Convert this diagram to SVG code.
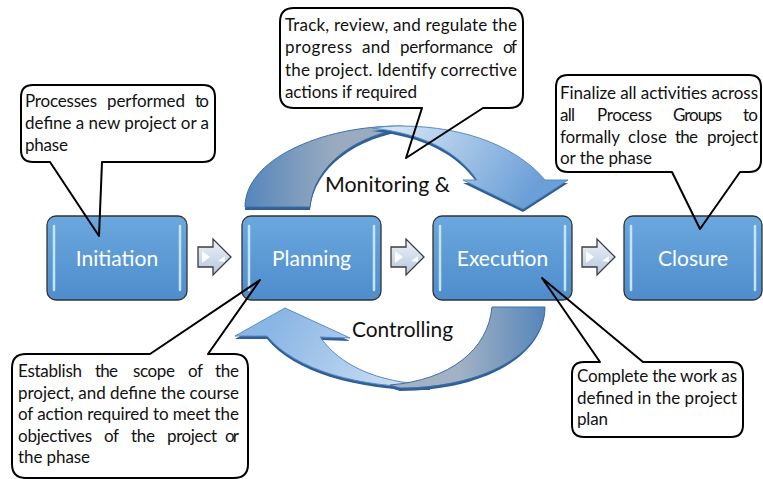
<svg xmlns="http://www.w3.org/2000/svg" width="763" height="479" viewBox="0 0 763 479">
  <defs>
    <linearGradient id="boxGrad" x1="0" y1="0" x2="0" y2="1">
      <stop offset="0" stop-color="#6ba8df"/>
      <stop offset="1" stop-color="#4e8ccc"/>
    </linearGradient>
    <linearGradient id="smallGrad" x1="0" y1="0" x2="0" y2="1">
      <stop offset="0" stop-color="#eef3f9"/>
      <stop offset="1" stop-color="#b5c6dc"/>
    </linearGradient>
    <linearGradient id="topLight" gradientUnits="userSpaceOnUse" x1="400" y1="126" x2="520" y2="209">
      <stop offset="0" stop-color="#d0e2f4"/>
      <stop offset="1" stop-color="#6b9fd7"/>
    </linearGradient>
    <linearGradient id="topDark" gradientUnits="userSpaceOnUse" x1="245" y1="0" x2="335" y2="0">
      <stop offset="0" stop-color="#5586bb"/>
      <stop offset="1" stop-color="#9aabbf"/>
    </linearGradient>
    <linearGradient id="botLight" gradientUnits="userSpaceOnUse" x1="285" y1="308" x2="410" y2="388">
      <stop offset="0" stop-color="#8ab6e5"/>
      <stop offset="1" stop-color="#d0e1f3"/>
    </linearGradient>
    <linearGradient id="botDark" gradientUnits="userSpaceOnUse" x1="545" y1="0" x2="460" y2="0">
      <stop offset="0" stop-color="#5586bb"/>
      <stop offset="1" stop-color="#a2b1c4"/>
    </linearGradient>
    <style>
      .box { fill: url(#boxGrad); stroke: #333333; stroke-width: 1.3; }
      .stripe { stroke: #c4e5fb; stroke-width: 2.5; stroke-linecap: round; }
      .title { font-family: Lato, "Open Sans", "Liberation Sans", sans-serif; font-size: 21px; fill: #ffffff; text-anchor: middle; }
      .label { font-family: Lato, "Open Sans", "Liberation Sans", sans-serif; font-size: 21px; fill: #111111; }
      .ctext { font-family: Lato, "Open Sans", "Liberation Sans", sans-serif; font-size: 17px; fill: #111111; }
      .cfill { fill: #ffffff; }
      .cline { fill: none; stroke: #000000; stroke-width: 2; stroke-linejoin: round; }
      .small { fill: url(#smallGrad); stroke: #3c3c3c; stroke-width: 1.3; stroke-linejoin: miter; }
      .glint { fill: #ffffff; opacity: 0.9; }
    </style>
  </defs>

  <rect x="0" y="0" width="763" height="479" fill="#ffffff"/>

  <g id="connectors">
    <g id="arc-top">
      <path d="M245,210 C245,163 320,129 400,129 L412,130 C355,137 314,168 310,210 Z" fill="#2f5f95"/>
      <path d="M245,207 C245,160 320,126 400,126 L412,127 C355,134 314,165 310,207 Z" fill="url(#topDark)" stroke="#3d70a8" stroke-width="1"/>
      <path d="M372,131 C385,129.5 392,129 400,129 C470,129 520,153 545,183 L568,183 L523,212 L463,183 L477,183 C458,155 425,137 372,131 Z" fill="#2f5f95"/>
      <path d="M372,128 C385,126.5 392,126 400,126 C470,126 520,150 545,180 L568,180 L523,209 L463,180 L477,180 C458,152 425,134 372,128 Z" fill="url(#topLight)" stroke="#5a8cc4" stroke-width="1"/>
    </g>
    <g id="arc-bottom">
      <path d="M430,390 C360,391 295,373 267,339 L235,339 L285,311 L350,341 L320,340 C340,368 375,385 430,388 Z" fill="#2f5f95"/>
      <path d="M430,387 C360,388 295,370 267,336 L235,336 L285,308 L350,338 L320,337 C340,365 375,382 430,385 Z" fill="url(#botLight)" stroke="#5a8cc4" stroke-width="1"/>
      <path d="M545,307 C545,358 480,391 400,391 L390,388 C450,383 488,353 492,307 Z" fill="#2f5f95"/>
      <path d="M545,307 C545,355 480,388 400,388 L390,385 C450,380 488,350 492,307 Z" fill="url(#botDark)" stroke="#3d70a8" stroke-width="1"/>
    </g>
    <g id="arrow-1">
      <path class="small" d="M198,247 H213 V239 L231,257 L213,275 V267 H198 Z"/>
      <path class="glint" d="M202,251 L210,257 L202,263 Z"/>
      <path class="glint" d="M218,261 L225,256 L225,262 Z"/>
    </g>
    <g id="arrow-2">
      <path class="small" d="M391,247 H406 V239 L424,257 L406,275 V267 H391 Z"/>
      <path class="glint" d="M395,251 L403,257 L395,263 Z"/>
      <path class="glint" d="M411,261 L418,256 L418,262 Z"/>
    </g>
    <g id="arrow-3">
      <path class="small" d="M582,247 H597 V239 L615,257 L597,275 V267 H582 Z"/>
      <path class="glint" d="M586,251 L594,257 L586,263 Z"/>
      <path class="glint" d="M602,261 L609,256 L609,262 Z"/>
    </g>
    <text class="label" x="325" y="192" textLength="125" lengthAdjust="spacingAndGlyphs">Monitoring &amp;</text>
    <text class="label" x="352" y="337" textLength="101" lengthAdjust="spacingAndGlyphs">Controlling</text>
  </g>

  <g id="initiation">
    <rect class="box" x="47" y="216" width="140" height="84" rx="9"/>
    <line class="stripe" x1="54" y1="226" x2="54" y2="290"/>
    <line class="stripe" x1="180" y1="226" x2="180" y2="290"/>
    <text class="title" x="117" y="266">Initiation</text>
  </g>
  <g id="planning">
    <rect class="box" x="242" y="216" width="139" height="84" rx="9"/>
    <line class="stripe" x1="249" y1="226" x2="249" y2="290"/>
    <line class="stripe" x1="374" y1="226" x2="374" y2="290"/>
    <text class="title" x="311.5" y="266">Planning</text>
  </g>
  <g id="execution">
    <rect class="box" x="433" y="216" width="139" height="84" rx="9"/>
    <line class="stripe" x1="440" y1="226" x2="440" y2="290"/>
    <line class="stripe" x1="565" y1="226" x2="565" y2="290"/>
    <text class="title" x="502.5" y="266">Execution</text>
  </g>
  <g id="closure">
    <rect class="box" x="624" y="216" width="138" height="84" rx="9"/>
    <line class="stripe" x1="631" y1="226" x2="631" y2="290"/>
    <line class="stripe" x1="755" y1="226" x2="755" y2="290"/>
    <text class="title" x="693" y="266">Closure</text>
  </g>

  <g id="callout-initiation">
    <rect class="cfill" x="21" y="85" width="194" height="77" rx="12"/>
    <path class="cline" d="M33,85 H203 Q215,85 215,97 V150 Q215,162 203,162 H102 L99,236 L50,162 H33 Q21,162 21,150 V97 Q21,85 33,85 Z"/>
    <text class="ctext" x="25" y="107" textLength="72" lengthAdjust="spacing">Processes</text>
    <text class="ctext" x="107" y="107" textLength="78" lengthAdjust="spacing">performed</text>
    <text class="ctext" x="195" y="107" textLength="14" lengthAdjust="spacing">to</text>
    <text class="ctext" x="25" y="129" textLength="184" lengthAdjust="spacing">define a new project or a</text>
    <text class="ctext" x="25" y="151" textLength="43" lengthAdjust="spacing">phase</text>
  </g>

  <g id="callout-monitoring">
    <rect class="cfill" x="280" y="8" width="243" height="100" rx="14"/>
    <path class="cline" d="M294,8 H509 Q523,8 523,22 V94 Q523,108 509,108 H483 L406,158 L422,108 H294 Q280,108 280,94 V22 Q280,8 294,8 Z"/>
    <text class="ctext" x="285" y="31" textLength="232" lengthAdjust="spacing">Track, review, and regulate the</text>
    <text class="ctext" x="285" y="53" textLength="67" lengthAdjust="spacing">progress</text>
    <text class="ctext" x="362" y="53" textLength="28" lengthAdjust="spacing">and</text>
    <text class="ctext" x="400" y="53" textLength="93" lengthAdjust="spacing">performance</text>
    <text class="ctext" x="503" y="53" textLength="14" lengthAdjust="spacing">of</text>
    <text class="ctext" x="285" y="76" textLength="232" lengthAdjust="spacing">the project. Identify corrective</text>
    <text class="ctext" x="285" y="98" textLength="132" lengthAdjust="spacing">actions if required</text>
  </g>

  <g id="callout-closure">
    <rect class="cfill" x="556" y="75" width="205" height="97" rx="12"/>
    <path class="cline" d="M568,75 H749 Q761,75 761,87 V160 Q761,172 749,172 H740 L700,229 L672,172 H568 Q556,172 556,160 V87 Q556,75 568,75 Z"/>
    <text class="ctext" x="560" y="99" textLength="198" lengthAdjust="spacing">Finalize all activities across</text>
    <text class="ctext" x="560" y="121" textLength="15" lengthAdjust="spacing">all</text>
    <text class="ctext" x="597" y="121" textLength="55" lengthAdjust="spacing">Process</text>
    <text class="ctext" x="673" y="121" textLength="49" lengthAdjust="spacing">Groups</text>
    <text class="ctext" x="743" y="121" textLength="15" lengthAdjust="spacing">to</text>
    <text class="ctext" x="560" y="143" textLength="60" lengthAdjust="spacing">formally</text>
    <text class="ctext" x="628" y="143" textLength="39" lengthAdjust="spacing">close</text>
    <text class="ctext" x="675" y="143" textLength="23" lengthAdjust="spacing">the</text>
    <text class="ctext" x="707" y="143" textLength="51" lengthAdjust="spacing">project</text>
    <text class="ctext" x="560" y="164" textLength="92" lengthAdjust="spacing">or the phase</text>
  </g>

  <g id="callout-planning">
    <rect class="cfill" x="12" y="354" width="236" height="124" rx="14"/>
    <path class="cline" d="M26,354 H150 L260,280 L208,354 H234 Q248,354 248,368 V464 Q248,478 234,478 H26 Q12,478 12,464 V368 Q12,354 26,354 Z"/>
    <text class="ctext" x="18" y="377" textLength="64" lengthAdjust="spacing">Establish</text>
    <text class="ctext" x="95" y="377" textLength="23" lengthAdjust="spacing">the</text>
    <text class="ctext" x="133" y="377" textLength="42" lengthAdjust="spacing">scope</text>
    <text class="ctext" x="188" y="377" textLength="15" lengthAdjust="spacing">of</text>
    <text class="ctext" x="215" y="377" textLength="24" lengthAdjust="spacing">the</text>
    <text class="ctext" x="18" y="399" textLength="221" lengthAdjust="spacing">project, and define the course</text>
    <text class="ctext" x="18" y="420" textLength="221" lengthAdjust="spacing">of action required to meet the</text>
    <text class="ctext" x="18" y="442" textLength="74" lengthAdjust="spacing">objectives</text>
    <text class="ctext" x="104" y="442" textLength="15" lengthAdjust="spacing">of</text>
    <text class="ctext" x="131" y="442" textLength="24" lengthAdjust="spacing">the</text>
    <text class="ctext" x="167" y="442" textLength="50" lengthAdjust="spacing">project</text>
    <text class="ctext" x="225" y="442" textLength="14" lengthAdjust="spacing">or</text>
    <text class="ctext" x="18" y="463" textLength="72" lengthAdjust="spacing">the phase</text>
  </g>

  <g id="callout-execution">
    <rect class="cfill" x="572" y="362" width="171" height="75" rx="12"/>
    <path class="cline" d="M584,362 H600 L542,278 L643,362 H731 Q743,362 743,374 V425 Q743,437 731,437 H584 Q572,437 572,425 V374 Q572,362 584,362 Z"/>
    <text class="ctext" x="577" y="382" textLength="160" lengthAdjust="spacing">Complete the work as</text>
    <text class="ctext" x="577" y="404" textLength="160" lengthAdjust="spacing">defined in the project</text>
    <text class="ctext" x="577" y="425" textLength="31" lengthAdjust="spacing">plan</text>
  </g>
</svg>
